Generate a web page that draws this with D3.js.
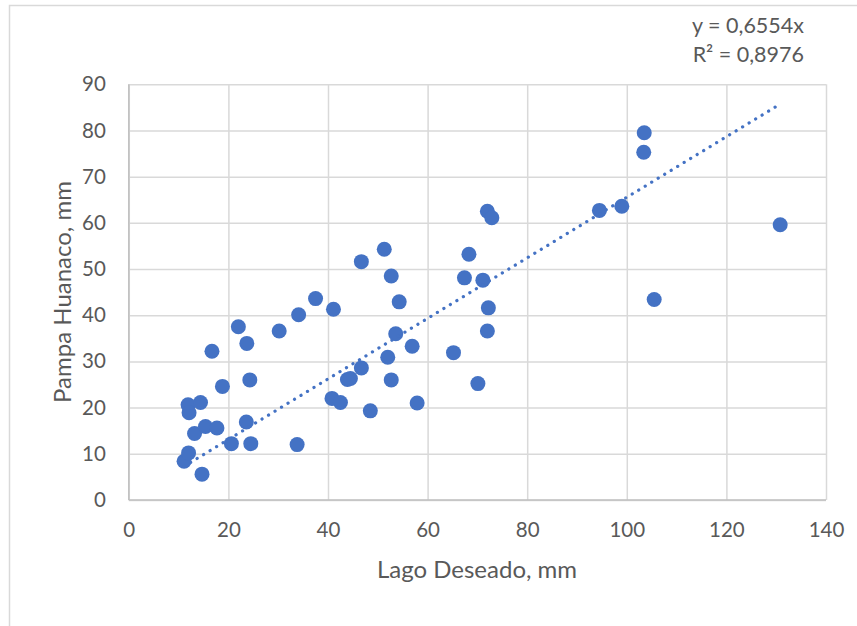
<!DOCTYPE html>
<html>
<head>
<meta charset="utf-8">
<script src="https://cdn.jsdelivr.net/npm/d3@7"></script>
<style>
  html, body { margin: 0; padding: 0; background: #fff; }
  svg { display: block; font-family: Lato, "Open Sans", sans-serif; }
</style>
</head>
<body>
<svg id="chart" width="857" height="626"></svg>
<script>
// ---- Data ----
const lagoDeseado = [11.1, 12.0, 14.7, 13.2, 15.4, 17.7, 11.9, 12.1, 14.4, 16.7,
  18.8, 22.0, 23.7, 24.3, 23.6, 20.6, 24.5, 33.8, 30.2, 34.1,
  37.5, 41.1, 40.8, 42.5, 43.9, 44.5, 46.7, 48.5, 52.0, 52.7,
  53.6, 54.3, 52.7, 51.3, 46.7, 56.9, 57.9, 65.2, 70.1, 72.0,
  72.2, 67.4, 71.1, 68.3, 72.0, 72.9, 94.5, 99.0, 103.5, 103.4,
  105.5, 130.8];
const pampaHuanaco = [8.4, 10.2, 5.6, 14.4, 15.9, 15.6, 20.6, 18.9, 21.1, 32.2,
  24.6, 37.5, 33.9, 26.0, 16.9, 12.2, 12.2, 12.0, 36.6, 40.1,
  43.6, 41.3, 22.0, 21.1, 26.1, 26.3, 28.6, 19.3, 30.9, 26.0,
  36.0, 42.9, 48.5, 54.3, 51.6, 33.3, 21.0, 31.9, 25.2, 36.6,
  41.6, 48.1, 47.6, 53.2, 62.5, 61.1, 62.7, 63.6, 79.5, 75.3,
  43.4, 59.6];
const xTicks = [0, 20, 40, 60, 80, 100, 120, 140];
const yTicks = [0, 10, 20, 30, 40, 50, 60, 70, 80, 90];
const trendSlope = 0.6554;
const equationLines = ["y = 0,6554x", "R² = 0,8976"];
const xTitle = "Lago Deseado, mm";
const yTitle = "Pampa Huanaco, mm";

(function () {
// ---- Layout ----
const svg = d3.select("#chart");
const pLeft = 128.8, pRight = 826, pTop = 84.3, pBottom = 500;
const x = d3.scaleLinear().domain([0, 140]).range([pLeft, pRight]);
const y = d3.scaleLinear().domain([0, 90]).range([pBottom, pTop]);
const textColor = "#595959";
const dotColor = "#4472C4";

// outer chart border
svg.append("rect")
  .attr("x", 9.5).attr("y", 5.5)
  .attr("width", 900).attr("height", 700)
  .attr("fill", "none").attr("stroke", "#d9d9d9").attr("stroke-width", 1.5);

// gridlines
const gx = svg.append("g")
  .attr("transform", `translate(0,${pBottom})`)
  .call(d3.axisBottom(x).tickValues(xTicks).tickSize(-(pBottom - pTop)).tickFormat(""));
gx.select(".domain").remove();
gx.selectAll(".tick line").attr("stroke", "#d9d9d9").attr("stroke-width", 1.5);

const gy = svg.append("g")
  .attr("transform", `translate(${pLeft},0)`)
  .call(d3.axisLeft(y).tickValues(yTicks).tickSize(-(pRight - pLeft)).tickFormat(""));
gy.select(".domain").remove();
gy.selectAll(".tick line").attr("stroke", "#d9d9d9").attr("stroke-width", 1.5);

// axis lines
svg.append("line")
  .attr("x1", pLeft).attr("x2", pRight).attr("y1", pBottom).attr("y2", pBottom)
  .attr("stroke", "#bfbfbf").attr("stroke-width", 1.5);
svg.append("line")
  .attr("x1", pLeft).attr("x2", pLeft).attr("y1", pTop).attr("y2", pBottom)
  .attr("stroke", "#bfbfbf").attr("stroke-width", 1.5);

// tick labels
const ax = svg.append("g")
  .attr("transform", `translate(0,${pBottom})`)
  .call(d3.axisBottom(x).tickValues(xTicks).tickSize(0).tickPadding(22).tickFormat(d3.format("d")));
ax.select(".domain").remove();
ax.selectAll("text").attr("fill", textColor).style("font-size", "20.5px").style("font-family", "Lato");

const ay = svg.append("g")
  .attr("transform", `translate(${pLeft},0)`)
  .call(d3.axisLeft(y).tickValues(yTicks).tickSize(0).tickPadding(23).tickFormat(d3.format("d")));
ay.select(".domain").remove();
ay.selectAll("text").attr("fill", textColor).style("font-size", "20.5px").style("font-family", "Lato");

// points
svg.append("g").selectAll("circle")
  .data(lagoDeseado.map((v, i) => [v, pampaHuanaco[i]]))
  .join("circle")
  .attr("cx", d => x(d[0]))
  .attr("cy", d => y(d[1]))
  .attr("r", 7.5)
  .attr("fill", dotColor);

// trendline (through origin)
const xMin = d3.min(lagoDeseado), xMax = d3.max(lagoDeseado);
svg.append("line")
  .attr("x1", x(xMin)).attr("y1", y(trendSlope * xMin))
  .attr("x2", x(xMax)).attr("y2", y(trendSlope * xMax))
  .attr("stroke", dotColor).attr("stroke-width", 3.2)
  .attr("stroke-linecap", "round")
  .attr("stroke-dasharray", "0.1 7.5");

// equation label
const eq = svg.append("text")
  .attr("text-anchor", "end")
  .attr("fill", textColor)
  .style("font-size", "21.5px");
equationLines.forEach((t, i) => {
  eq.append("tspan").attr("x", 804).attr("y", 33 + i * 29).text(t);
});

// axis titles
svg.append("text")
  .attr("x", 477).attr("y", 578)
  .attr("text-anchor", "middle")
  .attr("fill", textColor)
  .style("font-size", "24px")
  .text(xTitle);

svg.append("text")
  .attr("transform", `translate(71,292) rotate(-90)`)
  .attr("text-anchor", "middle")
  .attr("fill", textColor)
  .style("font-size", "24px")
  .text(yTitle);
})();
</script>
</body>
</html>
